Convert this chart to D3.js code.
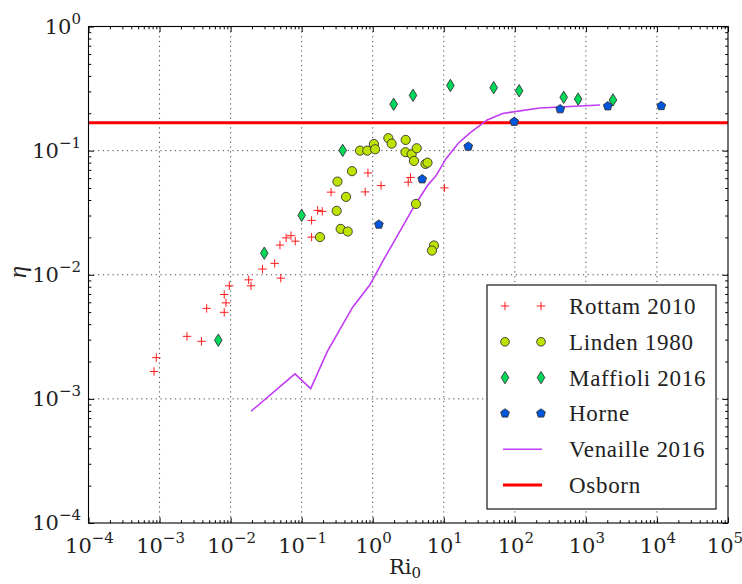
<!DOCTYPE html>
<html><head><meta charset="utf-8">
<script src="https://cdn.jsdelivr.net/npm/d3@7/dist/d3.min.js"></script>
<style>body{margin:0;background:#fff}svg{display:block}
.t{font-family:"DejaVu Serif";}
.t2{font-family:"Liberation Serif";}
</style>
</head><body>
<svg id="c" width="742" height="584"></svg>
<script>
// ---- data ----
const rottamRi  = [8.35e-4, 9.0e-4, 2.43e-3, 3.89e-3, 4.6e-3, 8.13e-3, 8.6e-3, 8.13e-3, 9.57e-3, 0.01795, 0.01936, 0.0281, 0.0417, 0.0495, 0.0508, 0.0605, 0.0708, 0.0813, 0.138, 0.138, 0.168, 0.195, 0.259, 0.783, 0.857, 1.31, 3.40, 3.16, 10.2];
const rottamEta = [1.66e-3, 2.15e-3, 3.19e-3, 2.91e-3, 5.36e-3, 4.98e-3, 5.94e-3, 6.93e-3, 8.14e-3, 9.10e-3, 8.14e-3, 0.01111, 0.01235, 0.01734, 0.00939, 0.01982, 0.02065, 0.01865, 0.02742, 0.0201, 0.0330, 0.0324, 0.0463, 0.0465, 0.0661, 0.0523, 0.0608, 0.0557, 0.0501];
const lindenRi  = [0.181, 0.311, 0.319, 0.354, 0.421, 0.445, 0.511, 0.662, 0.838, 1.04, 1.08, 1.66, 1.85, 2.91, 2.89, 3.53, 3.81, 4.16, 5.52, 5.90, 4.06, 7.28, 6.82];
const lindenEta = [0.0201, 0.0327, 0.0563, 0.0234, 0.0424, 0.0223, 0.0683, 0.100, 0.100, 0.113, 0.1026, 0.1259, 0.1138, 0.122, 0.0971, 0.0935, 0.0826, 0.1045, 0.0781, 0.080, 0.0372, 0.0172, 0.01566];
const maffRi    = [6.71e-3, 0.0298, 0.100, 0.378, 1.97, 3.69, 12.4, 50.4, 115, 487, 778, 2405];
const maffEta   = [2.97e-3, 0.01493, 0.0301, 0.1004, 0.2364, 0.279, 0.335, 0.3215, 0.3036, 0.269, 0.260, 0.256];
const horneRi   = [1.22, 4.97, 22.1, 98, 435, 2032, 11500];
const horneEta  = [0.0254, 0.0589, 0.108, 0.171, 0.216, 0.228, 0.229];
const venRi     = [0.0194, 0.0805, 0.134, 0.230, 0.522, 0.914, 1.38, 3.93, 6.0, 7.76, 10.7, 16.0, 23.4, 40.9, 67.5, 226, 1578];
const venEta    = [7.95e-4, 1.59e-3, 1.21e-3, 2.41e-3, 5.48e-3, 8.29e-3, 0.0128, 0.0365, 0.0530, 0.0626, 0.0858, 0.1147, 0.1388, 0.1767, 0.1993, 0.2207, 0.2333];
const osbornEta = 0.168;
const xDomain = [1e-4, 1e5];
const yDomain = [1e-4, 1];
const xTickExps = [-4, -3, -2, -1, 0, 1, 2, 3, 4, 5];
const yTickExps = [-4, -3, -2, -1, 0];
const legendLabels = ["Rottam 2010", "Linden 1980", "Maffioli 2016", "Horne", "Venaille 2016", "Osborn"];

// ---- layout ----
const L = 88.5, R = 728, T = 26.5, B = 523;
const svg = d3.select("#c");
const x = d3.scaleLog().domain(xDomain).range([L, R]);
const y = d3.scaleLog().domain(yDomain).range([B, T]);

const C = {rottam: "#ff1a1a", linden: "#bfe300", maff: "#00d95a", horne: "#0055dd", ven: "#c23cf5", osb: "#ff0000"};

// grid
const g = svg.append("g");
const majorX = xTickExps.map(e => Math.pow(10, e));
const majorY = yTickExps.map(e => Math.pow(10, e));
g.selectAll(".gx").data(majorX.slice(1, -1)).enter().append("line")
  .attr("x1", d => x(d)).attr("x2", d => x(d)).attr("y1", T).attr("y2", B)
  .attr("stroke", "#444").attr("stroke-width", 1).attr("stroke-dasharray", "1.2,3.6");
g.selectAll(".gy").data(majorY.slice(1, -1)).enter().append("line")
  .attr("y1", d => y(d)).attr("y2", d => y(d)).attr("x1", L).attr("x2", R)
  .attr("stroke", "#444").attr("stroke-width", 1).attr("stroke-dasharray", "1.2,3.6");

// ticks (inward, all four sides) via d3 axes
const minorX = [], minorY = [];
for (let e = -4; e < 5; e++) for (let k = 2; k < 10; k++) minorX.push(k * Math.pow(10, e));
for (let e = -4; e < 0; e++) for (let k = 2; k < 10; k++) minorY.push(k * Math.pow(10, e));
function tickAxis(axisFn, scale, vals, len, tr) {
  const a = svg.append("g").attr("transform", tr)
    .call(axisFn(scale).tickValues(vals).tickSize(len).tickFormat(""));
  a.select(".domain").remove();
  a.selectAll("line").attr("stroke", "#000").attr("stroke-width", 1);
}
tickAxis(d3.axisTop, x, majorX, 5.5, `translate(0,${B})`);
tickAxis(d3.axisTop, x, minorX, 2.8, `translate(0,${B})`);
tickAxis(d3.axisBottom, x, majorX, 5.5, `translate(0,${T})`);
tickAxis(d3.axisBottom, x, minorX, 2.8, `translate(0,${T})`);
tickAxis(d3.axisRight, y, majorY, 5.5, `translate(${L},0)`);
tickAxis(d3.axisRight, y, minorY, 2.8, `translate(${L},0)`);
tickAxis(d3.axisLeft, y, majorY, 5.5, `translate(${R},0)`);
tickAxis(d3.axisLeft, y, minorY, 2.8, `translate(${R},0)`);

function txt(sel, cls) { return sel.append("text").attr("class", cls || "t").attr("fill", "#222"); }

// tick labels (DejaVu Serif)
function powLabel(sel, e) {
  sel.append("tspan").attr("font-size", 21).text("10");
  sel.append("tspan").attr("font-size", 15).attr("dy", -10).text(e < 0 ? "\u2212" + (-e) : String(e));
}
xTickExps.forEach(e => {
  const t = txt(svg).attr("x", x(Math.pow(10, e)) + (e === 5 ? -3 : 1)).attr("y", 553).attr("text-anchor", "middle");
  powLabel(t, e);
});
yTickExps.forEach(e => {
  const t = txt(svg).attr("x", 81).attr("y", y(Math.pow(10, e)) + 7).attr("text-anchor", "end");
  powLabel(t, e);
});

// axis titles
const xl = txt(svg).attr("x", 405).attr("y", 574).attr("text-anchor", "middle");
xl.append("tspan").attr("font-size", 21).text("Ri");
xl.append("tspan").attr("font-size", 15).attr("dy", 4).text("0");
txt(svg, "t2").attr("transform", "translate(26,272) rotate(-90)").attr("text-anchor", "middle")
  .attr("font-size", 25).attr("font-style", "italic").text("η");

// clip
svg.append("clipPath").attr("id", "clip").append("rect").attr("x", L).attr("y", T).attr("width", R - L).attr("height", B - T);
const plot = svg.append("g").attr("clip-path", "url(#clip)");

// osborn
plot.append("line").attr("x1", x(xDomain[0])).attr("x2", x(xDomain[1]))
  .attr("y1", y(osbornEta)).attr("y2", y(osbornEta)).attr("stroke", C.osb).attr("stroke-width", 3);

// venaille
const venData = venRi.map((v, i) => [v, venEta[i]]);
plot.append("path").datum(venData)
  .attr("d", d3.line().x(d => x(d[0])).y(d => y(d[1])))
  .attr("fill", "none").attr("stroke", C.ven).attr("stroke-width", 1.6);

// marker shapes
const plusPath = "M-4.2,0H4.2M0,-4.2V4.2";
const diamondPath = "M0,-6.2L3.8,0L0,6.2L-3.8,0Z";
const pentPath = d3.range(5).map(i => {
  const a = -Math.PI / 2 + i * 2 * Math.PI / 5;
  return [4.6 * Math.cos(a), 4.6 * Math.sin(a)];
});
const pentD = "M" + pentPath.map(p => p.join(",")).join("L") + "Z";

function drawPlus(sel, xs, ys) {
  sel.selectAll(null).data(xs.map((v, i) => [v, ys[i]])).enter().append("path")
    .attr("transform", d => `translate(${x(d[0])},${y(d[1])})`)
    .attr("d", plusPath).attr("stroke", C.rottam).attr("stroke-width", 1).attr("fill", "none");
}
function drawCircle(sel, xs, ys) {
  sel.selectAll(null).data(xs.map((v, i) => [v, ys[i]])).enter().append("circle")
    .attr("cx", d => x(d[0])).attr("cy", d => y(d[1])).attr("r", 4.6)
    .attr("fill", C.linden).attr("stroke", "#333").attr("stroke-width", 0.9);
}
function drawPath(sel, xs, ys, dstr, col) {
  sel.selectAll(null).data(xs.map((v, i) => [v, ys[i]])).enter().append("path")
    .attr("transform", d => `translate(${x(d[0])},${y(d[1])})`)
    .attr("d", dstr).attr("fill", col).attr("stroke", "#333").attr("stroke-width", 0.9);
}
drawPlus(plot.append("g"), rottamRi, rottamEta);
drawCircle(plot.append("g"), lindenRi, lindenEta);
drawPath(plot.append("g"), maffRi, maffEta, diamondPath, C.maff);
drawPath(plot.append("g"), horneRi, horneEta, pentD, C.horne);

// frame
svg.append("rect").attr("x", L).attr("y", T).attr("width", R - L).attr("height", B - T)
  .attr("fill", "none").attr("stroke", "#000").attr("stroke-width", 1.1);

// legend
const lg = svg.append("g");
lg.append("rect").attr("x", 487).attr("y", 285).attr("width", 229).attr("height", 224)
  .attr("fill", "#fff").attr("stroke", "#000").attr("stroke-width", 1.1);
const rowY = i => 306 + i * 35.8;
const mx = [505, 541];
legendLabels.forEach((lab, i) => {
  const yy = rowY(i);
  if (i === 0) mx.forEach(m => lg.append("path").attr("transform", `translate(${m},${yy})`).attr("d", plusPath).attr("stroke", C.rottam).attr("fill", "none"));
  if (i === 1) mx.forEach(m => lg.append("circle").attr("cx", m).attr("cy", yy).attr("r", 4.3).attr("fill", C.linden).attr("stroke", "#333").attr("stroke-width", 0.9));
  if (i === 2) mx.forEach(m => lg.append("path").attr("transform", `translate(${m},${yy})`).attr("d", diamondPath).attr("fill", C.maff).attr("stroke", "#333").attr("stroke-width", 0.9));
  if (i === 3) mx.forEach(m => lg.append("path").attr("transform", `translate(${m},${yy})`).attr("d", pentD).attr("fill", C.horne).attr("stroke", "#333").attr("stroke-width", 0.9));
  if (i === 4) lg.append("line").attr("x1", 503).attr("x2", 542).attr("y1", yy).attr("y2", yy).attr("stroke", C.ven).attr("stroke-width", 1.6);
  if (i === 5) lg.append("line").attr("x1", 503).attr("x2", 542).attr("y1", yy).attr("y2", yy).attr("stroke", C.osb).attr("stroke-width", 3);
  txt(lg, "t2").attr("x", 569).attr("y", yy + 8).attr("font-size", 23).attr("letter-spacing", 0.7).text(lab);
});
</script>
</body></html>
